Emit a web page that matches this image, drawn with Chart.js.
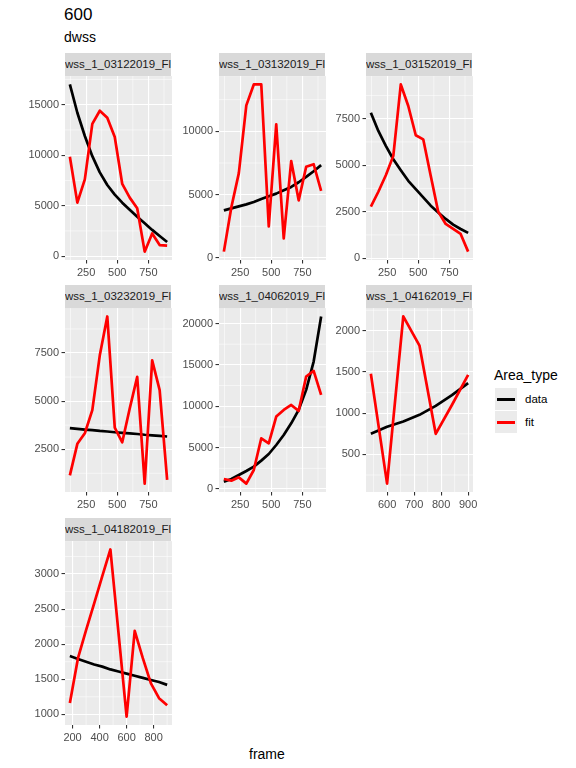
<!DOCTYPE html>
<html>
<head>
<meta charset="utf-8">
<script src="https://cdn.jsdelivr.net/npm/chart.js@4.4.1/dist/chart.umd.min.js"></script>
<style>
    body { margin: 0; background: #fff; width: 576px; height: 768px; position: relative; overflow: hidden;
           font-family: "Liberation Sans", Arial, sans-serif; }
    .abs { position: absolute; line-height: 1; white-space: nowrap; }
    .strip { position: absolute; background: #D9D9D9; color: #1A1A1A; font-size: 11.5px; overflow: hidden;
             white-space: nowrap; text-indent: 0.5px; }
</style>
</head>
<body>
<div class="abs" style="left:64px;top:5.6px;font-size:17px;color:#000">600</div>
<div class="abs" style="left:64px;top:29.8px;font-size:14px;color:#000">dwss</div>
<div class="abs" style="left:249px;top:746.5px;font-size:14px;color:#000">frame</div>

<!-- legend -->
<div class="abs" style="left:494px;top:367.5px;font-size:14px;color:#000">Area_type</div>
<div class="abs" style="left:495px;top:388px;width:22px;height:22px;background:#EBEBEB"></div>
<div class="abs" style="left:495px;top:411px;width:22px;height:22px;background:#EBEBEB"></div>
<div class="abs" style="left:497px;top:397.5px;width:18px;height:3px;background:#000"></div>
<div class="abs" style="left:497px;top:420.5px;width:18px;height:3px;background:#FF0000"></div>
<div class="abs" style="left:525px;top:393.6px;font-size:11.5px;color:#000">data</div>
<div class="abs" style="left:525px;top:417px;font-size:11.5px;color:#000">fit</div>

<script>
// frames per facet
const frames = [120, 180, 240, 300, 360, 420, 480, 540, 600, 660, 720, 780, 840, 900];
const frames0416 = [540, 600, 660, 720, 780, 840, 900];
const frames0418 = [180, 240, 300, 360, 420, 480, 540, 600, 660, 720, 780, 840, 900];

// values
const data0312 = [17000, 14200, 11900, 9900, 8300, 7050, 6100, 5300, 4600, 3900, 3250, 2600, 2000, 1400];
const fit0312 = [9850, 5300, 7600, 13100, 14400, 13700, 11800, 7150, 5800, 4750, 450, 2250, 1100, 1050];
const data0313 = [3760, 3920, 4070, 4230, 4420, 4660, 4870, 5080, 5340, 5610, 5980, 6400, 6850, 7330];
const fit0313 = [500, 4000, 6700, 12050, 13700, 13700, 2500, 10550, 1550, 7650, 4550, 7200, 7400, 5300];
const data0315 = [7820, 6840, 6040, 5320, 4730, 4160, 3710, 3270, 2820, 2460, 2110, 1800, 1570, 1360];
const fit0315 = [2770, 3570, 4460, 5500, 9340, 8180, 6610, 6390, 4430, 2500, 1840, 1570, 1300, 350];
const data0323 = [3600, 3560, 3520, 3490, 3450, 3420, 3380, 3350, 3320, 3290, 3250, 3220, 3190, 3160];
const fit0323 = [1140, 2780, 3330, 4530, 7380, 9400, 3620, 2860, 4620, 6260, 710, 7120, 5570, 910];
const data0406 = [890, 1210, 1690, 2180, 2700, 3430, 4230, 5320, 6530, 7940, 9560, 11980, 15400, 20850];
const fit0406 = [1210, 1010, 1410, 650, 2300, 6130, 5520, 8750, 9560, 10160, 9440, 13590, 14270, 11370];
const data0416 = [750, 835, 900, 980, 1090, 1220, 1365];
const fit0416 = [1480, 145, 2175, 1820, 750, 1100, 1465];
const data0418 = [1830, 1790, 1750, 1710, 1680, 1640, 1610, 1580, 1550, 1520, 1490, 1460, 1420];
const fit0418 = [1160, 1800, 2200, 2580, 2970, 3350, 2160, 967, 2190, 1800, 1440, 1230, 1130];

// tick labels
const xTicksMain = [250, 500, 750];
const xTicks0416 = [600, 700, 800, 900];
const xTicks0418 = [200, 400, 600, 800];
const yTicks0312 = [0, 5000, 10000, 15000];
const yTicks0313 = [0, 5000, 10000];
const yTicks0315 = [0, 2500, 5000, 7500];
const yTicks0323 = [2500, 5000, 7500];
const yTicks0406 = [0, 5000, 10000, 15000, 20000];
const yTicks0416 = [500, 1000, 1500, 2000];
const yTicks0418 = [1000, 1500, 2000, 2500, 3000];

const panels = [
    { name: 'wss_1_03122019_Fl', col: 0, row: 0, x: frames, data: data0312, fit: fit0312, xt: xTicksMain, yt: yTicks0312 },
    { name: 'wss_1_03132019_Fl', col: 1, row: 0, x: frames, data: data0313, fit: fit0313, xt: xTicksMain, yt: yTicks0313 },
    { name: 'wss_1_03152019_Fl', col: 2, row: 0, x: frames, data: data0315, fit: fit0315, xt: xTicksMain, yt: yTicks0315 },
    { name: 'wss_1_03232019_Fl', col: 0, row: 1, x: frames, data: data0323, fit: fit0323, xt: xTicksMain, yt: yTicks0323 },
    { name: 'wss_1_04062019_Fl', col: 1, row: 1, x: frames, data: data0406, fit: fit0406, xt: xTicksMain, yt: yTicks0406 },
    { name: 'wss_1_04162019_Fl', col: 2, row: 1, x: frames0416, data: data0416, fit: fit0416, xt: xTicks0416, yt: yTicks0416 },
    { name: 'wss_1_04182019_Fl', col: 0, row: 2, x: frames0418, data: data0418, fit: fit0418, xt: xTicks0418, yt: yTicks0418 }
];

const colLeft = [64.5, 218.5, 365.5];
const rowTop = [76, 308.5, 541];
const plotW = 106.5, plotH = 184, stripH = 23.5;

const tickFont = { family: 'Liberation Sans', size: 11 };

// grey panel + thin minor grid lines, drawn under the major grid
const panelBg = {
    id: 'panelBg',
    beforeDraw(chart, args, opts) {
        const { ctx, chartArea: a, scales } = chart;
        ctx.save();
        ctx.fillStyle = '#EBEBEB';
        ctx.fillRect(a.left, a.top, a.right - a.left, a.bottom - a.top);
        ctx.strokeStyle = '#FFFFFF';
        ctx.lineWidth = 0.55;
        ctx.beginPath();
        opts.xMinor.forEach(v => {
            const px = scales.x.getPixelForValue(v);
            ctx.moveTo(px, a.top); ctx.lineTo(px, a.bottom);
        });
        opts.yMinor.forEach(v => {
            const py = scales.y.getPixelForValue(v);
            ctx.moveTo(a.left, py); ctx.lineTo(a.right, py);
        });
        ctx.stroke();
        ctx.restore();
    }
};

function minorsFor(ticks, lo, hi) {
    const step = ticks[1] - ticks[0];
    const out = [];
    for (let v = ticks[0] - step / 2; v <= ticks[ticks.length - 1] + step / 2; v += step) {
        if (v > lo && v < hi) out.push(v);
    }
    return out;
}

function axisOpts(lo, hi, ticks, fitCb) {
    return {
        type: 'linear',
        min: lo,
        max: hi,
        afterBuildTicks: s => { s.ticks = ticks.filter(v => v >= lo && v <= hi).map(v => ({ value: v })); },
        afterFit: fitCb,
        ticks: { font: tickFont, color: '#4D4D4D', padding: 2.5, maxRotation: 0, autoSkip: false,
                 callback: v => String(v) },
        grid: { color: '#FFFFFF', lineWidth: 1.1, drawTicks: true, tickLength: 3.5, tickColor: '#333333', tickWidth: 1.1 },
        border: { display: false }
    };
}

function buildChart(p, W, H) {
    const cv = document.createElement('canvas');
    cv.className = 'abs';
    cv.width = W; cv.height = H;
    cv.style.width = W + 'px'; cv.style.height = H + 'px';
    document.body.appendChild(cv);

    const all = p.data.concat(p.fit);
    const yMin = Math.min(...all), yMax = Math.max(...all), yPad = (yMax - yMin) * 0.05;
    const xMin = p.x[0], xMax = p.x[p.x.length - 1], xPad = (xMax - xMin) * 0.05;
    const xl = [xMin - xPad, xMax + xPad], yl = [yMin - yPad, yMax + yPad];

    const chart = new Chart(cv, {
        type: 'line',
        data: {
            datasets: [{
                label: 'data',
                data: p.x.map((f, i) => ({ x: f, y: p.data[i] })),
                borderColor: '#000000',
                borderWidth: 2.7,
                pointRadius: 0,
                tension: 0,
                borderJoinStyle: 'round',
                order: 1
            }, {
                label: 'fit',
                data: p.x.map((f, i) => ({ x: f, y: p.fit[i] })),
                borderColor: '#FF0000',
                borderWidth: 2.7,
                pointRadius: 0,
                tension: 0,
                borderJoinStyle: 'round',
                order: 0
            }]
        },
        options: {
            responsive: false,
            animation: false,
            layout: { padding: { right: 12, top: 8, left: 0, bottom: 0 } },
            scales: {
                x: axisOpts(xl[0], xl[1], p.xt, s => { s.height = 18; }),
                y: axisOpts(yl[0], yl[1], p.yt, s => { s.width = 44; })
            },
            plugins: {
                legend: { display: false },
                tooltip: { enabled: false },
                panelBg: { xMinor: minorsFor(p.xt, xl[0], xl[1]), yMinor: minorsFor(p.yt, yl[0], yl[1]) }
            }
        },
        plugins: [panelBg]
    });
    return { chart, cv };
}

function drawPanel(p) {
    const left = colLeft[p.col], top = rowTop[p.row];

    const strip = document.createElement('div');
    strip.className = 'strip';
    strip.style.left = left + 'px';
    strip.style.top = (top - stripH) + 'px';
    strip.style.width = plotW + 'px';
    strip.style.height = stripH + 'px';
    strip.style.lineHeight = stripH + 'px';
    strip.textContent = p.name;
    document.body.appendChild(strip);

    // first pass to measure the chart area, then rebuild at the right size
    let W = 170, H = 220;
    let built = buildChart(p, W, H);
    let ca = built.chart.chartArea;
    W += plotW - (ca.right - ca.left);
    H += plotH - (ca.bottom - ca.top);
    built.chart.destroy();
    built.cv.remove();

    built = buildChart(p, Math.round(W), Math.round(H));
    ca = built.chart.chartArea;
    built.cv.style.left = (left - ca.left) + 'px';
    built.cv.style.top = (top - ca.top) + 'px';
}

panels.forEach(drawPanel);
</script>
</body>
</html>
